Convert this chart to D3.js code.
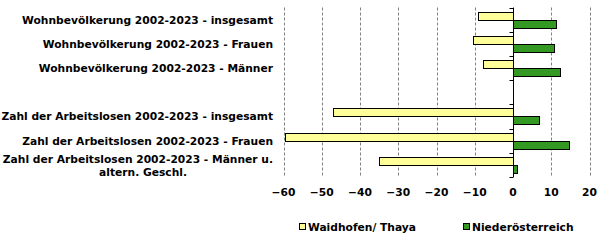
<!DOCTYPE html>
<html>
<head>
<meta charset="utf-8">
<script src="https://cdn.jsdelivr.net/npm/d3@7"></script>
<style>
  body { margin: 0; background: #fff; }
  text { font-family: "DejaVu Sans", Verdana, sans-serif; font-weight: bold; fill: #000; }
</style>
</head>
<body>
<svg id="chart" width="605" height="244"></svg>
<script>
const categories = [
  ["Wohnbevölkerung 2002-2023 - insgesamt"],
  ["Wohnbevölkerung 2002-2023 - Frauen"],
  ["Wohnbevölkerung 2002-2023 - Männer"],
  [""],
  ["Zahl der Arbeitslosen 2002-2023 - insgesamt"],
  ["Zahl der Arbeitslosen 2002-2023 - Frauen"],
  ["Zahl der Arbeitslosen 2002-2023 - Männer u.", "altern. Geschl."]
];
const waidhofen = [-9.2, -10.5, -7.8, null, -47.1, -59.6, -35.0];
const noe = [11.3, 10.6, 12.3, null, 6.9, 14.7, 1.1];
const xTicks = [-60, -50, -40, -30, -20, -10, 0, 10, 20];
const seriesNames = ["Waidhofen/ Thaya", "Niederösterreich"];
const colors = ["#ffff99", "#339922"];

const svg = d3.select("#chart");
const x = d3.scaleLinear().domain([-60, 20]).range([283.5, 589.5]);
const y = d3.scaleBand().domain(d3.range(categories.length)).range([7.5, 177]);
const barH = 8;
const fontSize = "10.7px";

// gridlines
svg.append("g")
  .selectAll("line")
  .data(xTicks.filter((d) => d !== 0))
  .join("line")
  .attr("x1", (d) => Math.round(x(d)) + 0.5)
  .attr("x2", (d) => Math.round(x(d)) + 0.5)
  .attr("y1", y.range()[0])
  .attr("y2", y.range()[1])
  .attr("stroke", "#808080")
  .attr("stroke-dasharray", "3,2");

// bars
const series = [waidhofen, noe];
series.forEach((values, si) => {
  svg.append("g")
    .selectAll("rect")
    .data(values.map((v, i) => ({ v, i })).filter((d) => d.v !== null))
    .join("rect")
    .attr("x", (d) => Math.round(x(Math.min(0, d.v))) + 0.5)
    .attr("width", (d) => Math.abs(Math.round(x(d.v)) - Math.round(x(0))))
    .attr("y", (d) => Math.round(y(d.i) + y.bandwidth() / 2 - barH + si * barH) + 0.5)
    .attr("height", barH)
    .attr("fill", colors[si])
    .attr("stroke", "#000")
    .attr("stroke-width", 1);
});

// zero axis
const zx = Math.round(x(0)) + 0.5;
svg.append("line")
  .attr("x1", zx).attr("x2", zx)
  .attr("y1", y.range()[0]).attr("y2", y.range()[1])
  .attr("stroke", "#000");
svg.append("g")
  .selectAll("line")
  .data(d3.range(categories.length + 1))
  .join("line")
  .attr("x1", zx - 4).attr("x2", zx)
  .attr("y1", (d) => Math.round(y.range()[0] + d * y.step()) + 0.5)
  .attr("y2", (d) => Math.round(y.range()[0] + d * y.step()) + 0.5)
  .attr("stroke", "#000");

// category labels
const labels = svg.append("g")
  .selectAll("text")
  .data(categories)
  .join("text")
  .style("font-size", fontSize)
  .attr("y", (d, i) => y(i) + y.bandwidth() / 2 + 4 - (d.length - 1) * 5.5);
labels.each(function (d) {
  const t = d3.select(this);
  d.forEach((line, li) => {
    t.append("tspan")
      .attr("x", li === 0 ? 273 : 143)
      .attr("dy", li === 0 ? 0 : 13)
      .attr("text-anchor", li === 0 ? "end" : "middle")
      .text(line);
  });
});

// x tick labels
svg.append("g")
  .selectAll("text")
  .data(xTicks)
  .join("text")
  .attr("x", (d) => x(d))
  .attr("y", 196)
  .attr("text-anchor", "middle")
  .style("font-size", fontSize)
  .text((d) => d3.format("d")(d));

// legend
const legendX = [299, 463];
const legend = svg.append("g")
  .selectAll("g")
  .data(seriesNames)
  .join("g")
  .attr("transform", (d, i) => `translate(${legendX[i]},0)`);
legend.append("rect")
  .attr("x", 0.5).attr("y", 223.5)
  .attr("width", 6).attr("height", 6)
  .attr("fill", (d, i) => colors[i])
  .attr("stroke", "#000");
legend.append("text")
  .attr("x", 9)
  .attr("y", 230.5)
  .style("font-size", fontSize)
  .text((d) => d);
</script>
</body>
</html>
